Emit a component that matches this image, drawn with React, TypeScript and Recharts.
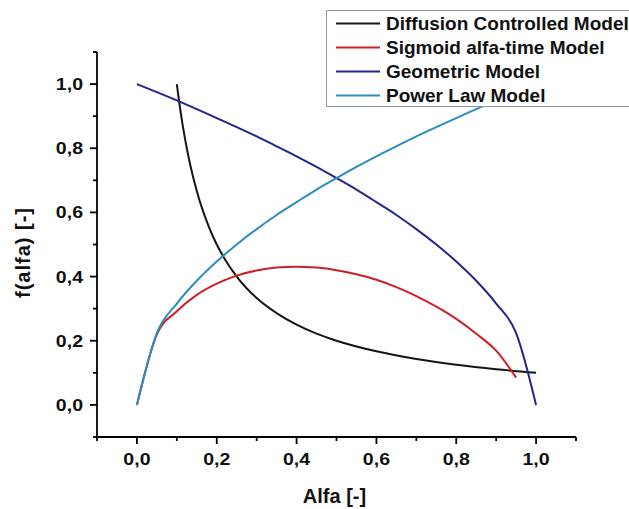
import { LineChart, Line, XAxis, YAxis, Legend } from 'recharts';

// series, in legend order
const seriesNames = ['Diffusion Controlled Model', 'Sigmoid alfa-time Model', 'Geometric Model', 'Power Law Model'];
const seriesColors = ['#151515', '#cc1f26', '#24248e', '#2a8cc0'];

// Diffusion Controlled Model
const diffusionAlfa = [0.1, 0.11, 0.12, 0.13, 0.14, 0.15, 0.16, 0.18, 0.2, 0.22, 0.25, 0.3, 0.35, 0.4, 0.45, 0.5, 0.6, 0.7, 0.8, 0.9, 1.0];
const diffusionF = [1.0, 0.909, 0.833, 0.769, 0.714, 0.667, 0.625, 0.556, 0.5, 0.455, 0.4, 0.333, 0.286, 0.25, 0.222, 0.2, 0.167, 0.143, 0.125, 0.111, 0.1];

// Sigmoid alfa-time Model
const sigmoidAlfa = [0, 0.05, 0.1, 0.15, 0.2, 0.25, 0.3, 0.35, 0.4, 0.45, 0.5, 0.55, 0.6, 0.65, 0.7, 0.75, 0.8, 0.85, 0.9, 0.95];
const sigmoidF = [0, 0.22, 0.292, 0.343, 0.378, 0.403, 0.419, 0.428, 0.431, 0.428, 0.42, 0.407, 0.39, 0.367, 0.339, 0.306, 0.268, 0.222, 0.169, 0.085];

// Geometric Model
const geometricAlfa = [0, 0.05, 0.1, 0.15, 0.2, 0.25, 0.3, 0.35, 0.4, 0.45, 0.5, 0.55, 0.6, 0.65, 0.7, 0.75, 0.8, 0.85, 0.9, 0.95, 1.0];
const geometricF = [1.0, 0.975, 0.949, 0.922, 0.894, 0.866, 0.837, 0.806, 0.775, 0.742, 0.707, 0.671, 0.632, 0.592, 0.548, 0.5, 0.447, 0.387, 0.316, 0.224, 0];

// Power Law Model
const powerAlfa = [0, 0.05, 0.1, 0.15, 0.2, 0.25, 0.3, 0.35, 0.4, 0.45, 0.5, 0.55, 0.6, 0.65, 0.7, 0.75, 0.8, 0.85, 0.9, 0.95, 1.0];
const powerF = [0, 0.224, 0.316, 0.387, 0.447, 0.5, 0.548, 0.592, 0.632, 0.671, 0.707, 0.742, 0.775, 0.806, 0.837, 0.866, 0.894, 0.922, 0.949, 0.975, 1.0];

const xTicks = [-0.1, 0, 0.1, 0.2, 0.3, 0.4, 0.5, 0.6, 0.7, 0.8, 0.9, 1.0, 1.1];
const yTicks = [-0.1, 0, 0.1, 0.2, 0.3, 0.4, 0.5, 0.6, 0.7, 0.8, 0.9, 1.0, 1.1];

const toPoints = (xs: number[], ys: number[]) => xs.map((x, i) => ({ x, y: ys[i] }));
const seriesData = [
    toPoints(diffusionAlfa, diffusionF),
    toPoints(sigmoidAlfa, sigmoidF),
    toPoints(geometricAlfa, geometricF),
    toPoints(powerAlfa, powerF),
];

const FONT = '"Liberation Sans", Arial, sans-serif';
const isMajor = (v: number) => Math.round(v * 10) % 2 === 0;
const fmt = (v: number) => v.toFixed(1).replace('.', ',');

const XTick = ({ x, y, payload }: any) => {
    const v = payload.value;
    const major = isMajor(v);
    return (
        <g>
            <line x1={x} y1={y} x2={x} y2={y + (major ? 7 : 4)} stroke="#000" strokeWidth={1.8} />
            {major && (
                <text transform={`translate(${x},${y + 28}) scale(1.15,1)`} textAnchor="middle"
                    fontFamily={FONT} fontWeight="bold" fontSize={17} fill="#111">
                    {fmt(v)}
                </text>
            )}
        </g>
    );
};

const YTick = ({ x, y, payload }: any) => {
    const v = payload.value;
    const major = isMajor(v);
    return (
        <g>
            <line x1={x} y1={y} x2={x - (major ? 7 : 4)} y2={y} stroke="#000" strokeWidth={1.8} />
            {major && (
                <text transform={`translate(${x - 14},${y + 6}) scale(1.15,1)`} textAnchor="end"
                    fontFamily={FONT} fontWeight="bold" fontSize={17} fill="#111">
                    {fmt(v)}
                </text>
            )}
        </g>
    );
};

const renderLegend = (props: any) => {
    // keep the plotting order, not the alphabetical one
    const payload = [...(props.payload || [])].sort(
        (a: any, b: any) => seriesNames.indexOf(a.value) - seriesNames.indexOf(b.value)
    );
    return (
        <svg width={303} height={98} style={{ display: 'block' }}>
            <rect x={0} y={0} width={303} height={97} fill="#fff" />
            <path d="M303 0.5 H0.5 V96.5 H303" fill="none" stroke="#8a93ad" strokeWidth={1} />
            {payload.map((p: any, i: number) => (
                <g key={p.value}>
                    <line x1={10} x2={54} y1={13.5 + i * 24} y2={13.5 + i * 24} stroke={p.color} strokeWidth={2} />
                    <text x={60} y={20 + i * 24} fontFamily={FONT} fontWeight="bold" fontSize={19} fill="#111">
                        {p.value}
                    </text>
                </g>
            ))}
        </svg>
    );
};

export default function App() {
    return (
        <div style={{ position: 'absolute', left: 0, top: 0, width: 629, height: 509, background: '#fff', overflow: 'hidden' }}>
            <LineChart width={629} height={509} margin={{ top: 52, right: 53, bottom: 0, left: 0 }}>
                <XAxis
                    type="number"
                    dataKey="x"
                    domain={[-0.1, 1.1]}
                    allowDataOverflow
                    ticks={xTicks}
                    interval={0}
                    height={72}
                    tickSize={0}
                    tickMargin={0}
                    tickLine={false}
                    axisLine={{ stroke: '#000', strokeWidth: 1.8 }}
                    tick={<XTick />}
                    label={{
                        content: ({ viewBox }: any) => (
                            <text x={viewBox.x + viewBox.width / 2 - 2} y={viewBox.y + 66} textAnchor="middle"
                                fontFamily={FONT} fontWeight="bold" fontSize={20} fill="#111">
                                Alfa [-]
                            </text>
                        ),
                    }}
                />
                <YAxis
                    type="number"
                    dataKey="y"
                    domain={[-0.1, 1.1]}
                    allowDataOverflow
                    ticks={yTicks}
                    interval={0}
                    width={97}
                    tickSize={0}
                    tickMargin={0}
                    tickLine={false}
                    axisLine={{ stroke: '#000', strokeWidth: 1.8 }}
                    tick={<YTick />}
                    label={{
                        content: ({ viewBox }: any) => {
                            const cx = viewBox.x + 30;
                            const cy = viewBox.y + viewBox.height / 2 + 8;
                            return (
                                <text transform={`translate(${cx},${cy}) rotate(-90)`} textAnchor="middle"
                                    fontFamily={FONT} fontWeight="bold" fontSize={20} letterSpacing={1} fill="#111">
                                    f(alfa) [-]
                                </text>
                            );
                        },
                    }}
                />
                <Legend
                    layout="horizontal"
                    verticalAlign="middle"
                    align="center"
                    content={renderLegend}
                    wrapperStyle={{ left: 326, top: 10, width: 303, height: 98 }}
                />
                {seriesData.map((d, i) => (
                    <Line
                        key={seriesNames[i]}
                        name={seriesNames[i]}
                        data={d}
                        dataKey="y"
                        type="monotone"
                        stroke={seriesColors[i]}
                        strokeWidth={2}
                        dot={false}
                        activeDot={false}
                        isAnimationActive={false}
                    />
                ))}
            </LineChart>
        </div>
    );
}
